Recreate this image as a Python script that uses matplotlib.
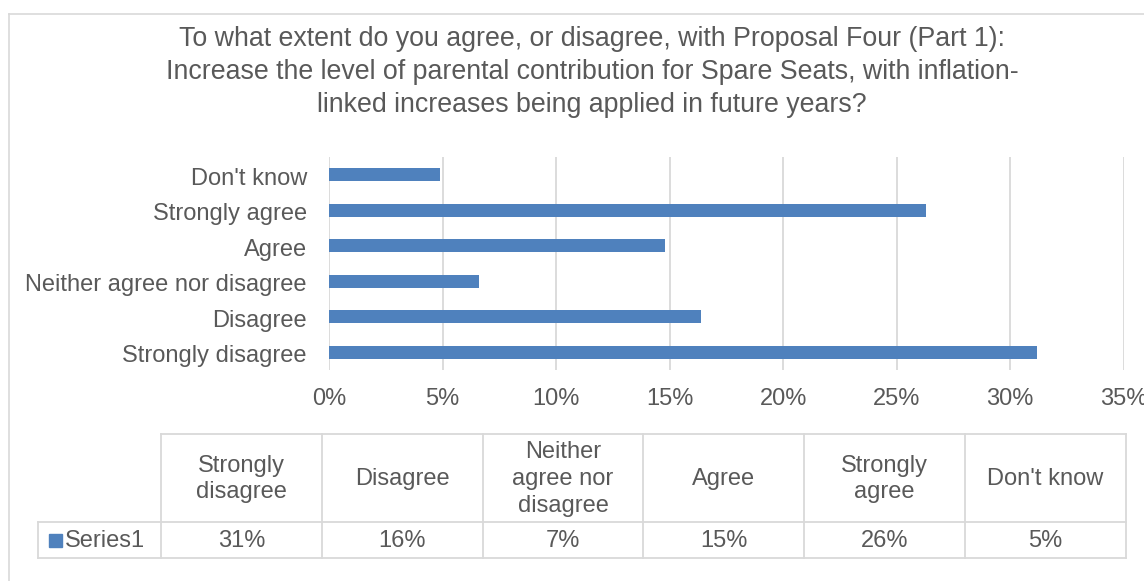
import matplotlib
matplotlib.use("Agg")
import matplotlib.pyplot as plt
import matplotlib.transforms as mtransforms
from matplotlib.lines import Line2D
from matplotlib.patches import Rectangle

# survey responses (share of respondents, %)
categories = ["Strongly disagree", "Disagree", "Neither agree nor disagree",
              "Agree", "Strongly agree", "Don't know"]
values = [31.2, 16.4, 6.6, 14.8, 26.3, 4.9]
header_labels = ["Strongly\ndisagree", "Disagree", "Neither\nagree nor\ndisagree",
                 "Agree", "Strongly\nagree", "Don't know"]
series_name = "Series1"
x_ticks = [0, 5, 10, 15, 20, 25, 30, 35]

title = ("To what extent do you agree, or disagree, with Proposal Four (Part 1):\n"
         "Increase the level of parental contribution for Spare Seats, with inflation-\n"
         "linked increases being applied in future years?")

W, H = 1144, 581
BLUE = "#4f81bd"
GRID = "#d9d9d9"
TXT = "#595959"
FS = 17

plt.rcParams["font.family"] = ["Liberation Sans", "DejaVu Sans"]

fig = plt.figure(figsize=(W / 100, H / 100), dpi=100)


def fx(x):
    return x / W


def fy(y):
    return 1 - y / H


# chart frame
fig.add_artist(Line2D([fx(9), fx(9)], [fy(14), 0], color=GRID, lw=1.2))
fig.add_artist(Line2D([fx(9), 1], [fy(14), fy(14)], color=GRID, lw=1.2))

fig.text(fx(592), fy(72), title, ha="center", va="center", fontsize=19.3,
         color=TXT, linespacing=1.33)

# bar chart
ax = fig.add_axes([fx(329), fy(370), fx(1123.7) - fx(329), fy(157) - fy(370)])
ypos = list(range(len(categories)))
ax.barh(ypos, values, height=0.37, color=BLUE, zorder=3)
ax.set_xlim(0, 35)
ax.set_ylim(-0.5, len(categories) - 0.5)
ax.set_yticks(ypos)
ax.set_yticklabels(categories, va="center")
ax.set_xticks(x_ticks)
ax.set_xticklabels([f"{t}%" for t in x_ticks])
ax.tick_params(axis="both", length=0, labelsize=FS, labelcolor=TXT)
ax.tick_params(axis="x", pad=13)
ax.tick_params(axis="y", pad=16)
ax.grid(axis="x", color=GRID, lw=1.3, zorder=0)
for s in ax.spines.values():
    s.set_visible(False)

# nudge category labels down a little
shift = mtransforms.ScaledTranslation(0, -4 / 100, fig.dpi_scale_trans)
for lbl in ax.get_yticklabels():
    lbl.set_transform(lbl.get_transform() + shift)

# data table below the chart
col_edges = [161 + 160.8 * i for i in range(len(categories) + 1)]
top, mid, bot = 434, 522, 558
lkw = dict(color=GRID, lw=1.3)
fig.add_artist(Line2D([fx(col_edges[0]), fx(col_edges[-1])], [fy(top)] * 2, **lkw))
for yy in (mid, bot):
    fig.add_artist(Line2D([fx(38), fx(col_edges[-1])], [fy(yy)] * 2, **lkw))
fig.add_artist(Line2D([fx(38)] * 2, [fy(mid), fy(bot)], **lkw))
for xe in col_edges:
    fig.add_artist(Line2D([fx(xe)] * 2, [fy(top), fy(bot)], **lkw))

for i, (lab, v) in enumerate(zip(header_labels, values)):
    cx = (col_edges[i] + col_edges[i + 1]) / 2
    fig.text(fx(cx), fy((top + mid) / 2 + 1), lab, ha="center", va="center",
             fontsize=FS, color=TXT, linespacing=1.29)
    fig.text(fx(cx), fy((mid + bot) / 2 + 1), f"{v:.0f}%", ha="center", va="center",
             fontsize=FS, color=TXT)

fig.add_artist(Rectangle((fx(49), fy(547)), fx(62) - fx(49), fy(534) - fy(547),
                         color=BLUE, transform=fig.transFigure))
fig.text(fx(65), fy(541), series_name, ha="left", va="center", fontsize=FS, color=TXT)

fig.savefig("out.png", dpi=100, facecolor="white")
